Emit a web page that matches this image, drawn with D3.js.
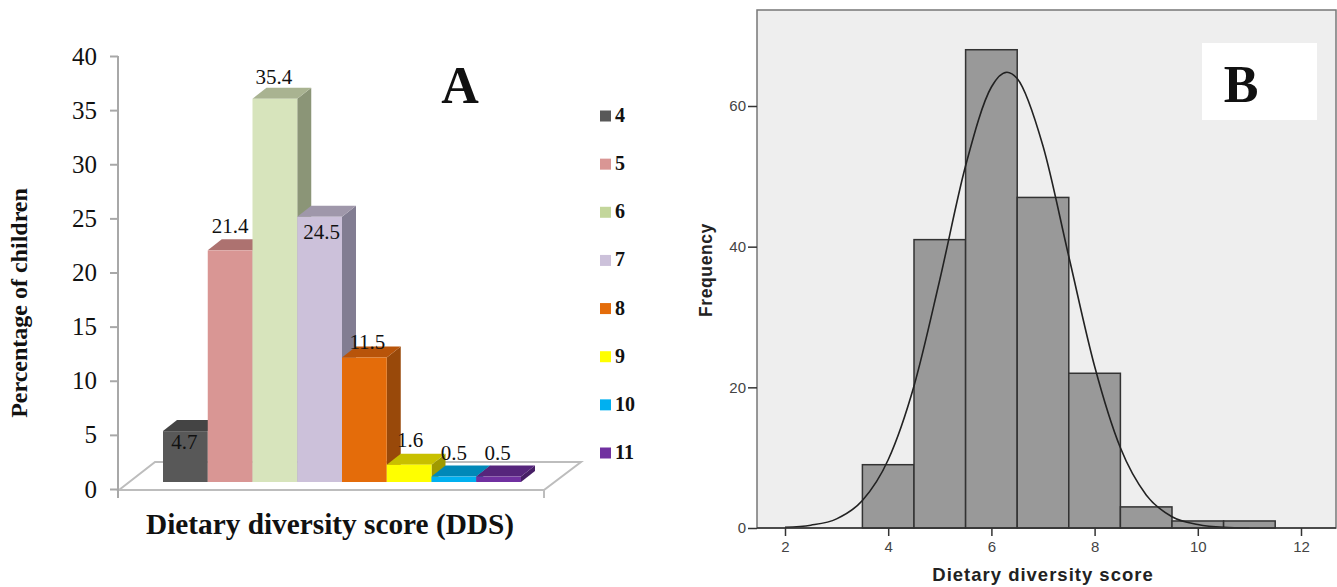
<!DOCTYPE html>
<html>
<head>
<meta charset="utf-8">
<script src="https://cdnjs.cloudflare.com/ajax/libs/d3/7.8.5/d3.min.js"></script>
<style>
html, body { margin: 0; padding: 0; background: #fff; overflow: hidden; }
svg { display: block; }
.serif { font-family: "Liberation Serif", serif; fill: #111; }
.sans { font-family: "Liberation Sans", sans-serif; }
.axisA path, .axisA line { stroke: #a8a8a8; stroke-width: 2; }
.axisA text { font-family: "Liberation Serif", serif; font-size: 25px; fill: #111; }
.axisB path { display: none; }
.axisB line { stroke: #333; stroke-width: 1.5; }
.axisB text { font-family: "Liberation Sans", sans-serif; font-size: 15px; fill: #444; }
</style>
</head>
<body>
<svg width="1337" height="587"></svg>
<script>
// panel A
var scores = ["4", "5", "6", "7", "8", "9", "10", "11"];
var percents = [4.7, 21.4, 35.4, 24.5, 11.5, 1.6, 0.5, 0.5];
var percentTicks = [0, 5, 10, 15, 20, 25, 30, 35, 40];

// panel B
var binCentres = [4, 5, 6, 7, 8, 9, 10, 11];
var frequencies = [9, 41, 68, 47, 22, 3, 1, 1];
var scoreTicks = [2, 4, 6, 8, 10, 12];
var freqTicks = [0, 20, 40, 60];
var curveX = [2, 2.5, 3, 3.5, 4, 4.5, 5, 5.5, 6, 6.3, 6.5, 7, 7.5, 8, 8.5, 9, 9.5, 10, 10.5, 11];
var curveY = [0.1, 0.4, 1.3, 3.9, 9.7, 20.2, 35.3, 51.5, 62.7, 64.8, 63.9, 54.3, 38.6, 23, 11.4, 4.7, 1.6, 0.5, 0.1, 0];

var frontColors = ["#585858", "#d99694", "#d7e4bc", "#ccc1da", "#e46c0a", "#ffff00", "#00b0f0", "#7030a0"];
var topColors = ["#444444", "#ad7270", "#a9b391", "#9f97aa", "#b8540a", "#c8c000", "#0088b8", "#56257c"];
var sideColors = ["#3e3e3e", "#98706e", "#8b9577", "#827d92", "#99490a", "#a09a00", "#006f96", "#461e65"];
var legendColors = ["#585858", "#d99694", "#c3d69b", "#ccc1da", "#e46c0a", "#ffff00", "#00b0f0", "#7030a0"];

var svg = d3.select("svg");

var a = svg.append("g");
var dx = 14, dy = -11;

var x = d3.scaleBand().domain(scores).range([163, 521]),
    yAxisScale = d3.scaleLinear().domain([0, 40]).range([489, 56]),
    y = d3.scaleLinear().domain([0, 40]).range([482, 49]);

// floor
a.append("path")
    .attr("d", "M119,490L155,462L581,462L544,490Z")
    .attr("fill", "#fff")
    .attr("stroke", "#bdbdbd")
    .attr("stroke-width", 2);
a.append("line").attr("x1", 544).attr("x2", 544).attr("y1", 490).attr("y2", 498)
    .attr("stroke", "#bdbdbd").attr("stroke-width", 2);

a.append("g")
    .attr("class", "axisA")
    .attr("transform", "translate(118,0)")
    .call(d3.axisLeft(yAxisScale).tickValues(percentTicks).tickSize(8).tickSizeOuter(0).tickPadding(13))
    .call(function(g) {
      g.select(".domain").attr("d", "M0,56V498");
    });

var bar = a.selectAll(".bar")
    .data(percents)
    .enter().append("g")
      .attr("class", "bar");

bar.append("path")
    .attr("fill", function(d, i) { return sideColors[i]; })
    .attr("d", function(d, i) {
      var r = x(scores[i]) + x.bandwidth();
      return "M" + r + "," + y(d) + "l" + dx + "," + dy + "V" + (y(0) + dy) + "l" + (-dx) + "," + (-dy) + "Z";
    });

bar.append("path")
    .attr("fill", function(d, i) { return topColors[i]; })
    .attr("d", function(d, i) {
      var l = x(scores[i]), w = x.bandwidth();
      return "M" + l + "," + y(d) + "l" + dx + "," + dy + "h" + w + "l" + (-dx) + "," + (-dy) + "Z";
    });

bar.append("rect")
    .attr("x", function(d, i) { return x(scores[i]); })
    .attr("y", function(d) { return y(d); })
    .attr("width", x.bandwidth())
    .attr("height", function(d) { return y(0) - y(d); })
    .attr("fill", function(d, i) { return frontColors[i]; });

// where each value label sits relative to its bar top
var labelDy = [18, -17, -15, 22, -9, -18, -17, -17],
    labelDx = [-1, 0, -1, 2, 3, 1, 0, -1];

a.selectAll(".val")
    .data(percents)
    .enter().append("text")
      .attr("class", "val serif")
      .attr("x", function(d, i) { return x(scores[i]) + x.bandwidth() / 2 + labelDx[i]; })
      .attr("y", function(d, i) { return y(d) + labelDy[i]; })
      .attr("text-anchor", "middle")
      .style("font-size", "21px")
      .text(function(d) { return d; });

var legendY = d3.scalePoint().domain(scores).range([116, 453]);

a.selectAll(".swatch")
    .data(scores)
    .enter().append("rect")
      .attr("class", "swatch")
      .attr("x", 600)
      .attr("y", function(d) { return legendY(d) - 5.5; })
      .attr("width", 11)
      .attr("height", 11)
      .attr("fill", function(d, i) { return legendColors[i]; });

a.selectAll(".legendText")
    .data(scores)
    .enter().append("text")
      .attr("class", "legendText serif")
      .attr("x", 615)
      .attr("y", function(d) { return legendY(d) + 6; })
      .style("font-size", "20px")
      .style("font-weight", "bold")
      .text(function(d) { return d; });

a.append("text")
    .attr("class", "serif")
    .attr("transform", "translate(27,303) rotate(-90)")
    .attr("text-anchor", "middle")
    .style("font-size", "24px")
    .style("font-weight", "bold")
    .text("Percentage of children");

a.append("text")
    .attr("class", "serif")
    .attr("x", 330)
    .attr("y", 534)
    .attr("text-anchor", "middle")
    .style("font-size", "29.3px")
    .style("font-weight", "bold")
    .text("Dietary diversity score (DDS)");

a.append("text")
    .attr("class", "serif")
    .attr("x", 460)
    .attr("y", 103)
    .attr("text-anchor", "middle")
    .style("font-size", "52px")
    .style("font-weight", "bold")
    .text("A");

// histogram
var b = svg.append("g");

var plotLeft = 757, plotRight = 1336, plotTop = 10, plotBottom = 528;

var hx = d3.scaleLinear().domain([2, 12]).range([785, 1301]),
    hy = d3.scaleLinear().domain([0, 60]).range([528, 106]);

b.append("rect")
    .attr("x", plotLeft)
    .attr("y", plotTop)
    .attr("width", plotRight - plotLeft)
    .attr("height", plotBottom - plotTop)
    .attr("fill", "#eeeeee")
    .attr("stroke", "#777")
    .attr("stroke-width", 1.5);

b.append("rect")
    .attr("x", 1202)
    .attr("y", 43)
    .attr("width", 115)
    .attr("height", 77)
    .attr("fill", "#fff");

b.append("text")
    .attr("class", "serif")
    .attr("x", 1241)
    .attr("y", 102)
    .attr("text-anchor", "middle")
    .style("font-size", "52px")
    .style("font-weight", "bold")
    .text("B");

b.selectAll(".hbar")
    .data(frequencies)
    .enter().append("rect")
      .attr("class", "hbar")
      .attr("x", function(d, i) { return hx(binCentres[i] - 0.5); })
      .attr("y", function(d) { return hy(d); })
      .attr("width", function(d, i) { return hx(binCentres[i] + 0.5) - hx(binCentres[i] - 0.5); })
      .attr("height", function(d) { return hy(0) - hy(d); })
      .attr("fill", "#999999")
      .attr("stroke", "#333")
      .attr("stroke-width", 1.5);

var line = d3.line()
    .curve(d3.curveMonotoneX)
    .x(function(d, i) { return hx(d); })
    .y(function(d, i) { return hy(curveY[i]); });

b.append("path")
    .attr("d", line(curveX))
    .attr("fill", "none")
    .attr("stroke", "#222")
    .attr("stroke-width", 1.6);

b.append("line")
    .attr("x1", plotLeft).attr("x2", plotRight)
    .attr("y1", plotBottom).attr("y2", plotBottom)
    .attr("stroke", "#333").attr("stroke-width", 1.5);

b.append("g")
    .attr("class", "axisB")
    .attr("transform", "translate(" + plotLeft + ",0)")
    .call(d3.axisLeft(hy).tickValues(freqTicks).tickSize(9).tickPadding(2));

b.append("g")
    .attr("class", "axisB")
    .attr("transform", "translate(0," + plotBottom + ")")
    .call(d3.axisBottom(hx).tickValues(scoreTicks).tickSize(8).tickPadding(5));

b.append("text")
    .attr("class", "sans")
    .attr("transform", "translate(712,270) rotate(-90)")
    .attr("text-anchor", "middle")
    .style("font-size", "17.5px")
    .style("font-weight", "bold")
    .style("letter-spacing", "0.6px")
    .style("fill", "#222")
    .text("Frequency");

b.append("text")
    .attr("class", "sans")
    .attr("x", 1043)
    .attr("y", 581)
    .attr("text-anchor", "middle")
    .style("font-size", "18.5px")
    .style("font-weight", "bold")
    .style("letter-spacing", "1px")
    .style("fill", "#222")
    .text("Dietary diversity score");
</script>
</body>
</html>
